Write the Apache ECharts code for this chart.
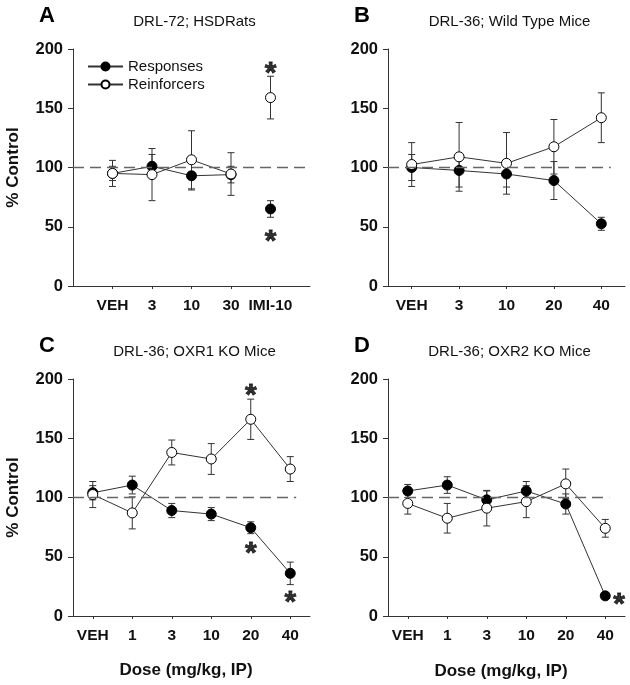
<!DOCTYPE html>
<html>
<head>
<meta charset="utf-8">
<script src="https://cdn.jsdelivr.net/npm/echarts@6/dist/echarts.min.js"></script>
<style>
html, body { margin: 0; background: #fff; }
#chart { width: 630px; height: 685px; }
</style>
</head>
<body>
<div id="chart"></div>
<script>
// dose categories per panel
var catsA = ['VEH', '3', '10', '30', 'IMI-10'];
var catsB = ['VEH', '3', '10', '20', '40'];
var catsC = ['VEH', '1', '3', '10', '20', '40'];
var catsD = ['VEH', '1', '3', '10', '20', '40'];

// % control, mean and SEM
var respA = [95, 101, 93, 94, 65];
var respErrA = [6, 10, 12, 7, 7];
var reinA = [95, 94, 106.5, 94.5, 159];
var reinErrA = [11, 22, 24.5, 18, 18];

var respB = [100, 97.5, 94.5, 89, 52.5];
var respErrB = [11, 14, 11, 16, 5.5];
var reinB = [102.5, 109, 103.5, 117.5, 142];
var reinErrB = [18.5, 29, 26, 23, 21];

var respC = [104, 110.5, 89, 86, 74.5, 36];
var respErrC = [6, 7.5, 6, 5.5, 5, 9.5];
var reinC = [102.5, 87, 138, 132.5, 166, 124];
var reinErrC = [11, 13.5, 10.5, 13, 17, 10.5];

var respD = [105.5, 110.5, 98, 105.5, 94.5, 17];
var respErrD = [5.5, 7, 7.5, 8, 8.5, 2];
var reinD = [95, 82.5, 91, 96.5, 111.5, 74];
var reinErrD = [9, 12.5, 15, 13.5, 12.5, 7.5];

// significance asterisks [dose position, % control]
var sigA = [[5, 186], [5, 44]];
var sigB = [];
var sigC = [[5, 193], [5, 59], [6, 18]];
var sigD = [[6.35, 16.5]];

var controlLevel = 100;

var FONT = 'Arial, "Liberation Sans", sans-serif';

var panels = [
    { letter: 'A', title: 'DRL-72; HSDRats', cats: catsA, resp: respA, respErr: respErrA, rein: reinA, reinErr: reinErrA, sig: sigA,
      left: 73, top: 49, xMin: 0, xMax: 6, dashEnd: 5.9, breakAfter: 4 },
    { letter: 'B', title: 'DRL-36; Wild Type Mice', cats: catsB, resp: respB, respErr: respErrB, rein: reinB, reinErr: reinErrB, sig: sigB,
      left: 388, top: 49, xMin: 0.5, xMax: 5.5, dashEnd: 5.2 },
    { letter: 'C', title: 'DRL-36; OXR1 KO Mice', cats: catsC, resp: respC, respErr: respErrC, rein: reinC, reinErr: reinErrC, sig: sigC,
      left: 73, top: 379, xMin: 0.5, xMax: 6.5, dashEnd: 6.15 },
    { letter: 'D', title: 'DRL-36; OXR2 KO Mice', cats: catsD, resp: respD, respErr: respErrD, rein: reinD, reinErr: reinErrD, sig: sigD,
      left: 388, top: 379, xMin: 0.5, xMax: 6.5, dashEnd: 6.1 }
];

function points(vals, breakAfter) {
    var out = [];
    vals.forEach(function (v, i) {
        if (breakAfter && i === breakAfter) out.push([i + 0.5, '-']);
        out.push([i + 1, v]);
    });
    return out;
}

function errData(vals, errs) {
    return vals.map(function (v, i) { return [i + 1, v, errs[i]]; });
}

function errRender(params, api) {
    var x = api.value(0), y = api.value(1), e = api.value(2);
    var hi = api.coord([x, y + e]);
    var lo = api.coord([x, y - e]);
    var w = 3.5;
    var st = { stroke: '#333', lineWidth: 1 };
    return {
        type: 'group',
        children: [
            { type: 'line', shape: { x1: hi[0], y1: hi[1], x2: lo[0], y2: lo[1] }, style: st },
            { type: 'line', shape: { x1: hi[0] - w, y1: hi[1], x2: hi[0] + w, y2: hi[1] }, style: st },
            { type: 'line', shape: { x1: lo[0] - w, y1: lo[1], x2: lo[0] + w, y2: lo[1] }, style: st }
        ]
    };
}

var grids = [], xAxes = [], yAxes = [], series = [];

panels.forEach(function (p, k) {
    var pos = p.cats.map(function (c, i) { return i + 1; });
    grids.push({ left: p.left, top: p.top, width: 237, height: 237 });
    xAxes.push({
        type: 'value', gridIndex: k, min: p.xMin, max: p.xMax,
        splitLine: { show: false },
        axisLine: { show: true, lineStyle: { color: '#333', width: 1 } },
        axisTick: { show: true, length: 3, customValues: pos, lineStyle: { color: '#333' } },
        axisLabel: {
            customValues: pos, margin: 12,
            fontFamily: FONT, fontWeight: 'bold', fontSize: 15.5, color: '#111',
            formatter: function (v) { return p.cats[Math.round(v) - 1] || ''; }
        }
    });
    yAxes.push({
        type: 'value', gridIndex: k, min: 0, max: 200, interval: 50,
        splitLine: { show: false },
        axisLine: { show: true, lineStyle: { color: '#333', width: 1 } },
        axisTick: { show: true, length: 5, lineStyle: { color: '#333' } },
        axisLabel: { margin: 10, fontFamily: FONT, fontWeight: 'bold', fontSize: 16.5, color: '#111' }
    });

    series.push({
        type: 'custom', xAxisIndex: k, yAxisIndex: k, z: 2, silent: true,
        renderItem: errRender, encode: { x: 0, y: 1 },
        data: errData(p.resp, p.respErr)
    });
    series.push({
        type: 'custom', xAxisIndex: k, yAxisIndex: k, z: 2, silent: true,
        renderItem: errRender, encode: { x: 0, y: 1 },
        data: errData(p.rein, p.reinErr)
    });
    series.push({
        name: 'Responses', type: 'line', xAxisIndex: k, yAxisIndex: k, z: 3,
        symbol: 'circle', symbolSize: 10, connectNulls: false,
        itemStyle: { color: '#000', borderColor: '#000', borderWidth: 1 },
        lineStyle: { color: '#333', width: 1 },
        data: points(p.resp, p.breakAfter),
        markLine: {
            silent: true, symbol: 'none', label: { show: false },
            lineStyle: { color: '#666', type: [11, 6], width: 1.3 },
            data: [[{ coord: [p.xMin, controlLevel] }, { coord: [p.dashEnd, controlLevel] }]]
        }
    });
    series.push({
        name: 'Reinforcers', type: 'line', xAxisIndex: k, yAxisIndex: k, z: 4,
        symbol: 'circle', symbolSize: 10, connectNulls: false,
        itemStyle: { color: '#fff', borderColor: '#000', borderWidth: 1 },
        lineStyle: { color: '#333', width: 1 },
        data: points(p.rein, p.breakAfter)
    });
    if (p.sig.length) {
        series.push({
            type: 'scatter', xAxisIndex: k, yAxisIndex: k, z: 5, silent: true,
            symbolSize: 1, itemStyle: { color: 'rgba(0,0,0,0)' },
            label: {
                show: true, position: 'inside', formatter: '*', offset: [0, 8],
                fontFamily: FONT, fontWeight: 'bold', fontSize: 30, color: '#000',
                textBorderColor: '#000', textBorderWidth: 0.8
            },
            data: p.sig
        });
    }
});

var texts = [];
panels.forEach(function (p) {
    var cx = p.left + 237 / 2;
    texts.push({ type: 'text', x: p.left - 26, y: p.top - 33,
        style: { text: p.letter, font: 'bold 22px ' + FONT, fill: '#000', align: 'center', verticalAlign: 'middle' } });
    texts.push({ type: 'text', x: cx + 3, y: p.top - 27.5,
        style: { text: p.title, font: '15px ' + FONT, fill: '#111', align: 'center', verticalAlign: 'middle' } });
});
texts.push({ type: 'text', x: 13, y: 167.5, rotation: Math.PI / 2,
    style: { text: '% Control', font: 'bold 17px ' + FONT, fill: '#111', align: 'center', verticalAlign: 'middle' } });
texts.push({ type: 'text', x: 13, y: 497.5, rotation: Math.PI / 2,
    style: { text: '% Control', font: 'bold 17px ' + FONT, fill: '#111', align: 'center', verticalAlign: 'middle' } });
texts.push({ type: 'text', x: 186, y: 670,
    style: { text: 'Dose (mg/kg, IP)', font: 'bold 17px ' + FONT, fill: '#111', align: 'center', verticalAlign: 'middle' } });
texts.push({ type: 'text', x: 501, y: 671,
    style: { text: 'Dose (mg/kg, IP)', font: 'bold 17px ' + FONT, fill: '#111', align: 'center', verticalAlign: 'middle' } });

var myChart = echarts.init(document.getElementById('chart'));
myChart.setOption({
    animation: false,
    backgroundColor: '#fff',
    grid: grids,
    xAxis: xAxes,
    yAxis: yAxes,
    legend: {
        data: ['Responses', 'Reinforcers'],
        orient: 'vertical', left: 82, top: 54,
        itemWidth: 35, itemHeight: 10, itemGap: 3,
        textStyle: { fontFamily: FONT, fontSize: 15, color: '#111' }
    },
    graphic: texts,
    series: series
});
</script>
</body>
</html>
